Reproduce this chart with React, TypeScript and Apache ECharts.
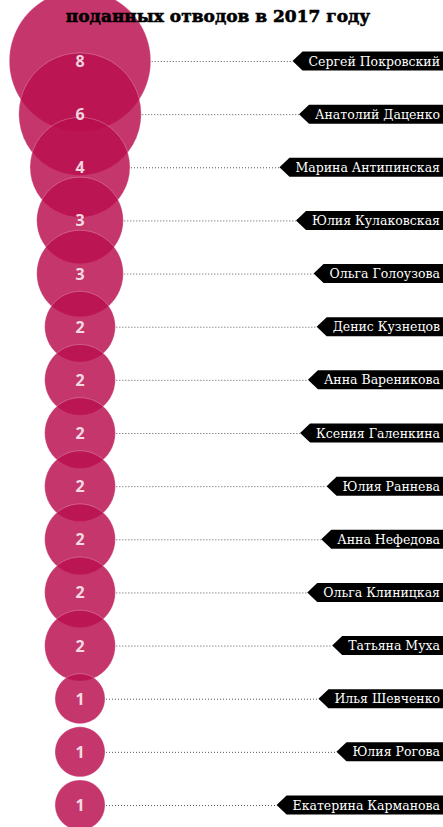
import React, { useEffect, useRef } from "react";
import * as echarts from "echarts";

const titleText = "поданных отводов в 2017 году";
const names = [
  "Сергей Покровский",
  "Анатолий Даценко",
  "Марина Антипинская",
  "Юлия Кулаковская",
  "Ольга Голоузова",
  "Денис Кузнецов",
  "Анна Вареникова",
  "Ксения Галенкина",
  "Юлия Раннева",
  "Анна Нефедова",
  "Ольга Клиницкая",
  "Татьяна Муха",
  "Илья Шевченко",
  "Юлия Рогова",
  "Екатерина Карманова",
];
const values = [8, 6, 4, 3, 3, 2, 2, 2, 2, 2, 2, 2, 1, 1, 1];

const LABEL_FONT = "12.5px 'DejaVu Serif'";
const radiusOf = (v: number) => 25 * Math.sqrt(v);

let measureCtx: CanvasRenderingContext2D | null = null;
function textWidth(t: string): number {
  if (!measureCtx) {
    const c = document.createElement("canvas");
    measureCtx = c.getContext("2d");
  }
  if (!measureCtx) return t.length * 7;
  measureCtx.font = LABEL_FONT;
  return measureCtx.measureText(t).width;
}

export default function App() {
  const ref = useRef<HTMLDivElement>(null);
  useEffect(() => {
    document.body.style.margin = "0";
    if (!ref.current) return;
    const chart = echarts.init(ref.current, undefined, { renderer: "svg" });
    const data = names.map((n, i) => [0, n, values[i]]);
    chart.setOption({
      animation: false,
      title: {
        text: titleText,
        left: 213,
        textAlign: "center",
        top: 2,
        textStyle: {
          fontFamily: "DejaVu Serif",
          fontWeight: "bold",
          fontSize: 17,
          color: "#000",
          textBorderColor: "#000",
          textBorderWidth: 0.6,
        },
      },
      grid: { left: 80, right: 0, top: 61, bottom: 22 },
      xAxis: { type: "value", min: 0, max: 1, show: false },
      yAxis: {
        type: "category",
        data: names,
        inverse: true,
        boundaryGap: false,
        show: false,
      },
      series: [
        {
          type: "custom",
          data,
          clip: false,
          z: 1,
          renderItem: (params: any, api: any) => {
            const idx = params.dataIndex;
            const pt = api.coord([0, idx]);
            const v = api.value(2);
            const r = radiusOf(v);
            const name = names[idx];
            const tw = textWidth(name);
            const right = api.getWidth();
            const rectLeft = right - tw - 9;
            const tip = rectLeft - 10;
            const y = pt[1];
            const h = 9.5;
            return {
              type: "group",
              children: [
                {
                  type: "line",
                  shape: { x1: pt[0] + r + 1, y1: y + 0.5, x2: tip, y2: y + 0.5 },
                  style: { stroke: "#555", lineWidth: 1, lineDash: [1, 2] },
                },
                {
                  type: "polygon",
                  shape: {
                    points: [
                      [tip, y],
                      [rectLeft, y - h],
                      [right, y - h],
                      [right, y + h],
                      [rectLeft, y + h],
                    ],
                  },
                  style: { fill: "#000" },
                },
                {
                  type: "text",
                  style: {
                    x: right - 3,
                    y: y,
                    text: name,
                    align: "right",
                    verticalAlign: "middle",
                    fill: "#fff",
                    font: LABEL_FONT,
                  },
                },
              ],
            };
          },
        },
        {
          type: "scatter",
          data,
          clip: false,
          z: 2,
          symbol: "circle",
          symbolSize: (val: any) => 2 * radiusOf(val[2]),
          itemStyle: {
            color: "rgb(185,15,78)",
            opacity: 0.83,
            borderColor: "rgba(255,255,255,0.3)",
            borderWidth: 1,
          },
          label: {
            show: true,
            position: "inside",
            formatter: (p: any) => String(p.value[2]),
            color: "#fff",
            fontFamily: "Noto Sans",
            fontWeight: "bold",
            fontSize: 16,
          },
          emphasis: { disabled: true },
        },
      ],
    });
    return () => chart.dispose();
  }, []);
  return <div ref={ref} style={{ width: 443, height: 827 }} />;
}
